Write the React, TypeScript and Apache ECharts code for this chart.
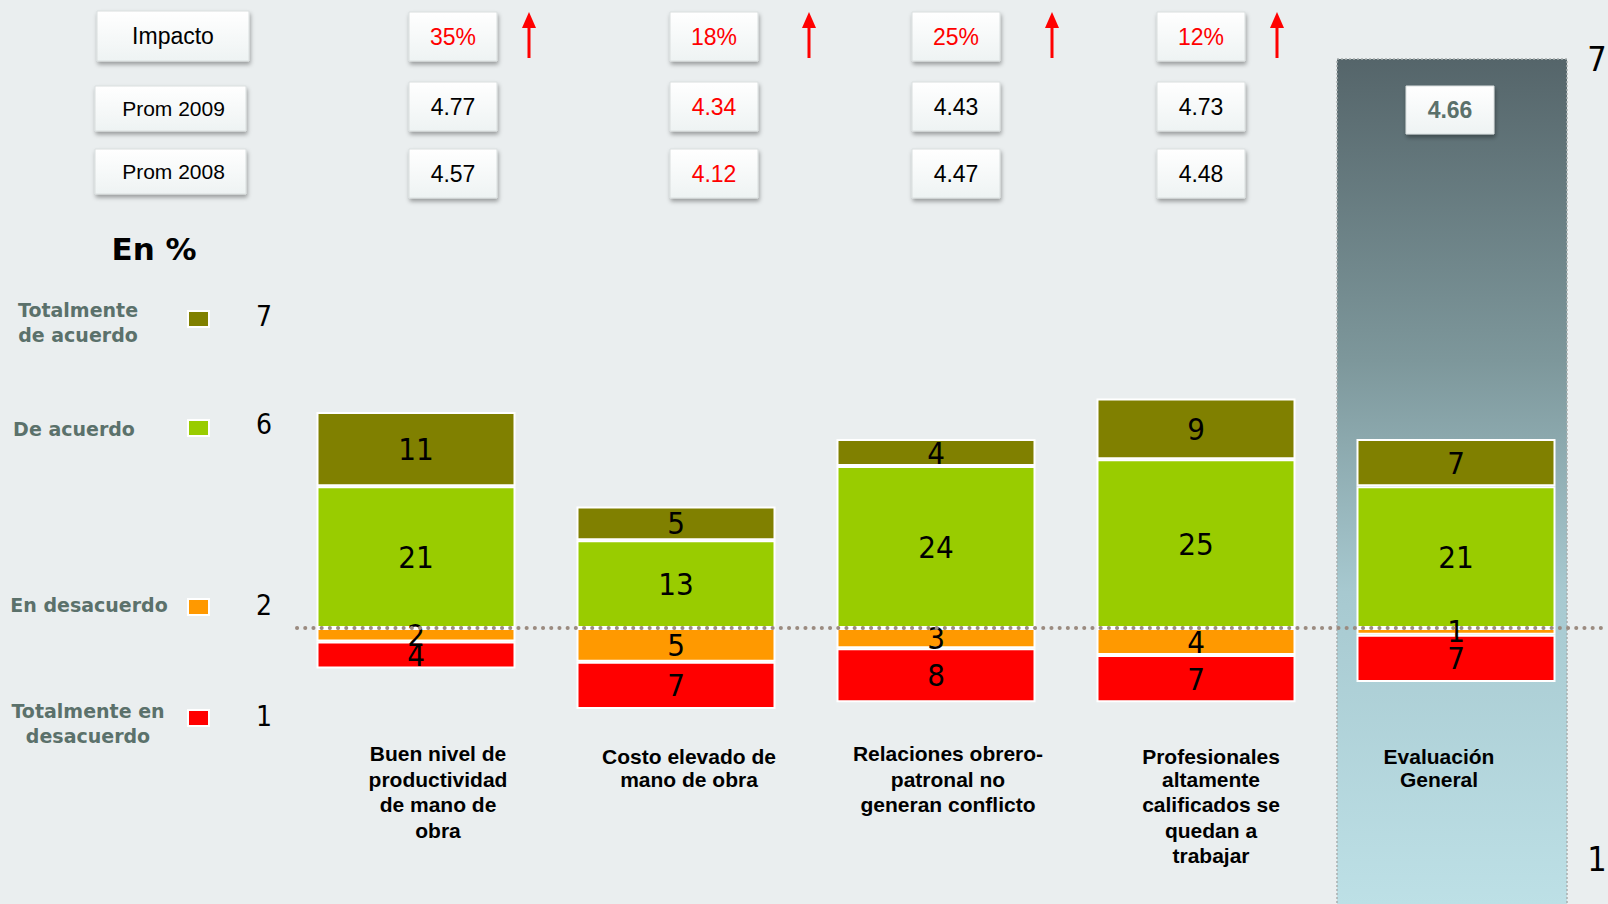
import React, { useEffect, useRef } from "react";
import * as echarts from "echarts";

// ---------- data ----------
const categories = [
  "Buen nivel de\nproductividad\nde mano de\nobra",
  "Costo elevado de\nmano de obra",
  "Relaciones obrero-\npatronal no\ngeneran conflicto",
  "Profesionales\naltamente\ncalificados se\nquedan a\ntrabajar",
  "Evaluación\nGeneral",
];
const totalAcuerdo = [11, 5, 4, 9, 7];
const deAcuerdo = [21, 13, 24, 25, 21];
const enDesacuerdo = [2, 5, 3, 4, 1];
const totalDesacuerdo = [4, 7, 8, 7, 7];

const rowLabels = ["Impacto", "Prom 2009", "Prom 2008"];
const impacto = ["35%", "18%", "25%", "12%"];
const prom2009 = ["4.77", "4.34", "4.43", "4.73"];
const prom2008 = ["4.57", "4.12", "4.47", "4.48"];
const promGeneral = "4.66";
const highlightedColumns = [false, true, false, false];

const legendNames = ["Totalmente\nde acuerdo", "De acuerdo", "En desacuerdo", "Totalmente en\ndesacuerdo"];
const legendScale = ["7", "6", "2", "1"];
const scaleEnds = ["7", "1"];
const unitTitle = "En %";

// ---------- styles / layout ----------
const C_OLIVE = "#808000";
const C_GREEN = "#99cc00";
const C_ORANGE = "#ff9900";
const C_RED = "#ff0000";
const legendColors = [C_OLIVE, C_GREEN, C_ORANGE, C_RED];
const FONT_NUM = '"DejaVu Sans Condensed", "DejaVu Sans", sans-serif';
const FONT_ARIAL = '"Liberation Sans", Arial, sans-serif';
const FONT_LEG = '"DejaVu Sans", Verdana, sans-serif';
const LEG_COLOR = "#5b716b";

const colCenters = [453, 714, 956, 1201];
const arrowX = [529, 809, 1052, 1277];
const rowBoxes = [
  { x: 97, y: 11, w: 152, h: 50, fs: 23, dx: 0 },
  { x: 95, y: 86, w: 151, h: 45, fs: 21, dx: 3 },
  { x: 95, y: 149, w: 151, h: 45, fs: 21, dx: 3 },
];
const valueRowsY = [12, 82, 149];
const legendLayout = [
  { ty: 322, tx: 78, sy: 319, ny: 316 },
  { ty: 429, tx: 74, sy: 428, ny: 424 },
  { ty: 605, tx: 89, sy: 607, ny: 605 },
  { ty: 723, tx: 88, sy: 718, ny: 716 },
];
const labelShift = [
  [22, 0],
  [13, 6],
  [12, 0],
  [15, 6],
  [-17, 6],
];

function boxFill() {
  return new echarts.graphic.LinearGradient(0, 0, 0, 1, [
    { offset: 0, color: "#ffffff" },
    { offset: 1, color: "#eef3f3" },
  ]);
}

function box(x: number, y: number, w: number, h: number, text: string, color: string, fs: number, bold = false, dx = 0) {
  return [
    {
      type: "rect",
      z: 10,
      shape: { x, y, width: w, height: h },
      style: {
        fill: boxFill(),
        stroke: "#d9dede",
        lineWidth: 1,
        shadowBlur: 4,
        shadowOffsetX: 1,
        shadowOffsetY: 3,
        shadowColor: "rgba(0,0,0,0.35)",
      },
    },
    {
      type: "text",
      z: 11,
      x: x + w / 2 + dx,
      y: y + h / 2,
      style: {
        text,
        fill: color,
        fontSize: fs,
        fontFamily: FONT_ARIAL,
        fontWeight: bold ? "bold" : "normal",
        align: "center",
        verticalAlign: "middle",
        textAlign: "center",
        textVerticalAlign: "middle",
      },
    },
  ];
}

function arrow(x: number) {
  return [
    {
      type: "line",
      z: 10,
      shape: { x1: x, y1: 58, x2: x, y2: 24 },
      style: { stroke: C_RED, lineWidth: 3 },
    },
    {
      type: "polygon",
      z: 10,
      shape: { points: [[x - 7, 28], [x + 7, 28], [x, 12]] },
      style: { fill: C_RED },
    },
  ];
}

function buildGraphics() {
  const g: any[] = [];
  g.push({
    type: "rect",
    z: 0,
    shape: { x: 1337, y: 59, width: 230, height: 860 },
    style: {
      fill: new echarts.graphic.LinearGradient(0, 0, 0, 1, [
        { offset: 0, color: "#55656a" },
        { offset: 0.35, color: "#7d979b" },
        { offset: 0.62, color: "#a7c9d0" },
        { offset: 1, color: "#bee1e7" },
      ]),
      stroke: "#a9aeae",
      lineWidth: 1.5,
      lineDash: [2, 2],
    },
  });
  rowLabels.forEach((t, i) => {
    const b = rowBoxes[i];
    g.push(...box(b.x, b.y, b.w, b.h, t, "#000", b.fs, false, b.dx));
  });
  const rows = [impacto, prom2009, prom2008];
  rows.forEach((vals, r) => {
    vals.forEach((v, c) => {
      const red = r === 0 || highlightedColumns[c];
      g.push(...box(colCenters[c] - 44, valueRowsY[r], 88, 49, v, red ? C_RED : "#000", 23));
    });
  });
  impacto.forEach((_, c) => g.push(...arrow(arrowX[c])));
  g.push(...box(1406, 86, 88, 48, promGeneral, LEG_COLOR, 23, true));

  g.push({
    type: "text",
    z: 10,
    x: 154,
    y: 249,
    style: {
      text: unitTitle,
      fill: "#000",
      fontSize: 31,
      fontWeight: "bold",
      fontFamily: FONT_LEG,
      align: "center",
      verticalAlign: "middle",
      textAlign: "center",
      textVerticalAlign: "middle",
    },
  });
  legendNames.forEach((name, i) => {
    const l = legendLayout[i];
    g.push({
      type: "text",
      z: 10,
      x: l.tx,
      y: l.ty,
      style: {
        text: name,
        fill: LEG_COLOR,
        fontSize: 19,
        fontWeight: "bold",
        fontFamily: FONT_LEG,
        lineHeight: 25,
        align: "center",
        verticalAlign: "middle",
        textAlign: "center",
        textVerticalAlign: "middle",
      },
    });
    g.push({
      type: "rect",
      z: 10,
      shape: { x: 188, y: l.sy - 8, width: 21, height: 16 },
      style: { fill: legendColors[i], stroke: "#ffffff", lineWidth: 2 },
    });
    g.push({
      type: "text",
      z: 10,
      x: 264,
      y: l.ny,
      style: {
        text: legendScale[i],
        fill: "#000",
        fontSize: 28,
        fontFamily: FONT_NUM,
        align: "center",
        verticalAlign: "middle",
        textAlign: "center",
        textVerticalAlign: "middle",
      },
    });
  });
  [59, 859].forEach((y, i) => {
    g.push({
      type: "text",
      z: 10,
      x: 1597,
      y,
      style: {
        text: scaleEnds[i],
        fill: "#000",
        fontSize: 34,
        fontFamily: FONT_NUM,
        align: "center",
        verticalAlign: "middle",
        textAlign: "center",
        textVerticalAlign: "middle",
      },
    });
  });
  return g;
}

const barLabel = {
  show: true,
  position: "inside",
  formatter: (p: any) => String(Math.abs(p.value)),
  color: "#000",
  fontSize: 31,
  fontFamily: FONT_NUM,
  textBorderWidth: 0,
};

function makeSeries(name: string, data: number[], color: string) {
  return {
    name,
    type: "bar",
    stack: "total",
    data,
    barWidth: 199,
    itemStyle: { color, borderColor: "#ffffff", borderWidth: 2 },
    label: barLabel,
  };
}

export default function App() {
  const ref = useRef<HTMLDivElement>(null);
  useEffect(() => {
    if (!ref.current) return;
    const chart = echarts.init(ref.current, null, { renderer: "svg" });
    const rich: any = {};
    labelShift.forEach(([dx, dy], i) => {
      const base = {
        fontSize: 21,
        fontWeight: "bold",
        fontFamily: FONT_ARIAL,
        color: "#000",
        lineHeight: 25.6,
      };
      const lr = dx >= 0 ? [2 * dx, 0] : [0, -2 * dx];
      rich["f" + i] = { ...base, padding: [dy, lr[1], 0, lr[0]] };
      rich["r" + i] = { ...base, padding: [0, lr[1], 0, lr[0]] };
    });
    const unit = 6.75;
    const yMax = 40;
    const yMin = -17;
    const base0 = 628;
    const option: any = {
      animation: false,
      backgroundColor: "#eaeeef",
      grid: {
        left: 286,
        top: base0 - yMax * unit,
        width: 1300,
        height: (yMax - yMin) * unit,
        containLabel: false,
        outerBoundsMode: "none",
      },
      xAxis: {
        type: "category",
        data: categories,
        axisLine: { show: false },
        axisTick: { show: false },
        splitLine: { show: false },
        axisLabel: {
          interval: 0,
          margin: -2,
          fontSize: 21,
          fontWeight: "bold",
          fontFamily: FONT_ARIAL,
          color: "#000",
          lineHeight: 25.6,
          formatter: (value: string, index: number) =>
            value
              .split("\n")
              .map((l, i) => `{${i === 0 ? "f" : "r"}${index}|${l}}`)
              .join("\n"),
          rich,
        },
      },
      yAxis: { type: "value", min: yMin, max: yMax, show: false },
      series: [
        makeSeries("De acuerdo", deAcuerdo, C_GREEN),
        makeSeries("Totalmente de acuerdo", totalAcuerdo, C_OLIVE),
        makeSeries("En desacuerdo", enDesacuerdo.map((v) => -v), C_ORANGE),
        makeSeries("Totalmente en desacuerdo", totalDesacuerdo.map((v) => -v), C_RED),
      ],
      graphic: buildGraphics(),
    };
    chart.setOption(option);
    const y0 = chart.convertToPixel({ yAxisIndex: 0 }, 0) as number;
    chart.setOption({
      graphic: [
        ...buildGraphics(),
        {
          type: "line",
          z: 20,
          shape: { x1: 297, y1: y0, x2: 1604, y2: y0 },
          style: { stroke: "#9b8b80", lineWidth: 4, lineDash: [0.1, 8.1], lineCap: "round" },
        },
      ],
    });
    return () => chart.dispose();
  }, []);
  return (
    <div
      ref={ref}
      style={{ position: "absolute", left: 0, top: 0, width: 1608, height: 904 }}
    />
  );
}
